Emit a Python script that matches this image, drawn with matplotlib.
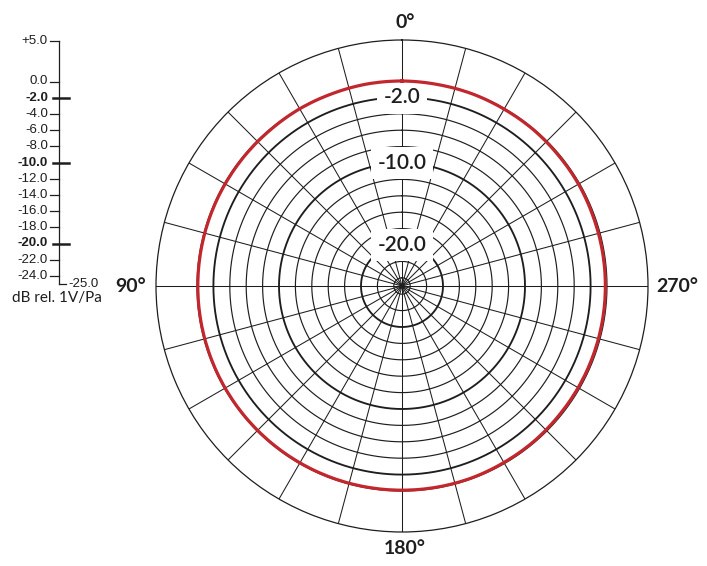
import numpy as np
import matplotlib
matplotlib.use('Agg')
import matplotlib.pyplot as plt

# polar response, dB rel. 1V/Pa, every 10 degrees (0..360)
angles_deg = list(range(0, 361, 10))
response_db = [0.0, 0.0, -0.05, -0.05, -0.1, -0.1, -0.1, -0.1, -0.1, -0.1,
               -0.1, -0.1, -0.1, -0.1, -0.1, -0.1, -0.1, -0.1, -0.1, -0.1,
               -0.1, -0.15, -0.15, -0.2, -0.2, -0.2, -0.2, -0.2, -0.2, -0.2,
               -0.15, -0.15, -0.1, -0.1, -0.05, -0.05, 0.0]

# scale
r_min, r_max = -25.0, 5.0
grid_db = [0.0, -2.0, -4.0, -6.0, -8.0, -10.0, -12.0, -14.0, -16.0, -18.0,
           -20.0, -22.0, -24.0]
bold_db = [-2.0, -10.0, -20.0]
scale_labels = ['+5.0', '0.0', '-2.0', '-4.0', '-6.0', '-8.0', '-10.0', '-12.0',
                '-14.0', '-16.0', '-18.0', '-20.0', '-22.0', '-24.0']
scale_values = [5.0] + grid_db
spoke_deg = list(range(0, 360, 15))
angle_labels = {0: '0°', 90: '90°', 180: '180°', 270: '270°'}

plt.rcParams['font.family'] = ['Lato', 'DejaVu Sans']
ink = '#1e1e1e'

W, H = 707, 566
fig = plt.figure(figsize=(W / 100, H / 100), dpi=100)

cx, cy, R = 402, 286, 246
ax = fig.add_axes([(cx - R) / W, (H - cy - R) / H, 2 * R / W, 2 * R / H],
                  projection='polar')
ax.set_theta_zero_location('N')
ax.set_theta_direction(1)
ax.set_ylim(r_min, r_max)
ax.grid(False)
ax.set_xticks([])
ax.set_yticks([])
ax.spines['polar'].set_linewidth(0.9)
ax.spines['polar'].set_color(ink)

full = np.linspace(0, 2 * np.pi, 721)
for d in spoke_deg:
    t = np.deg2rad(d)
    ax.plot([t, t], [r_min, r_max], color=ink, lw=0.75, zorder=1)
for g in grid_db:
    lw = 1.35 if g in bold_db else 0.85
    ax.plot(full, np.full_like(full, g), color=ink, lw=lw, zorder=2)

resp, = ax.plot(np.deg2rad(angles_deg), response_db, color='#c1272d',
                lw=2.3, zorder=8)
resp.get_path()._interpolation_steps = 40

# ring labels
for g in bold_db:
    ax.text(0, g, '%.1f' % g, ha='center', va='center', fontsize=15,
            fontweight='semibold', color=ink, zorder=6,
            bbox=dict(boxstyle='square,pad=0.3', fc='white', ec='none'))

# angle labels
fig.text(405 / W, 1 - 22 / H, angle_labels[0], ha='center', va='center',
         fontsize=14, fontweight='bold', color=ink)
fig.text(131 / W, 1 - 287 / H, angle_labels[90], ha='center', va='center',
         fontsize=14, fontweight='bold', color=ink)
fig.text(677 / W, 1 - 287 / H, angle_labels[270], ha='center', va='center',
         fontsize=14, fontweight='bold', color=ink)
fig.text(405 / W, 1 - 548 / H, angle_labels[180], ha='center', va='center',
         fontsize=14, fontweight='bold', color=ink)

# left dB scale
top_px, bot_px = 41, 284
sax = fig.add_axes([0, (H - bot_px) / H, 1, (bot_px - top_px) / H])
sax.set_xlim(0, W)
sax.set_ylim(r_min, r_max)
sax.axis('off')
line_x = 59
sfont = ['Liberation Sans', 'DejaVu Sans']
sax.plot([line_x, line_x], [r_min, r_max], color=ink, lw=0.9, clip_on=False)
for lab, v in zip(scale_labels, scale_values):
    if v in bold_db:
        sax.plot([53, 69], [v, v], color=ink, lw=1.8, clip_on=False)
        sax.text(48, v, lab, ha='right', va='center', fontsize=9.5,
                 fontweight='bold', color=ink, family=sfont)
    else:
        sax.plot([50, line_x], [v, v], color=ink, lw=0.9, clip_on=False)
        sax.text(48, v, lab, ha='right', va='center', fontsize=9.5,
                 color=ink, family=sfont)
sax.plot([line_x, 66], [r_min, r_min], color=ink, lw=0.9, clip_on=False)
sax.text(68, r_min, '-25.0', ha='left', va='center', fontsize=9.5,
         color=ink, family=sfont)

fig.text(12 / W, 1 - 298 / H, 'dB rel. 1V/Pa', ha='left', va='center',
         fontsize=11, color=ink)

fig.savefig('out.png', dpi=100)
